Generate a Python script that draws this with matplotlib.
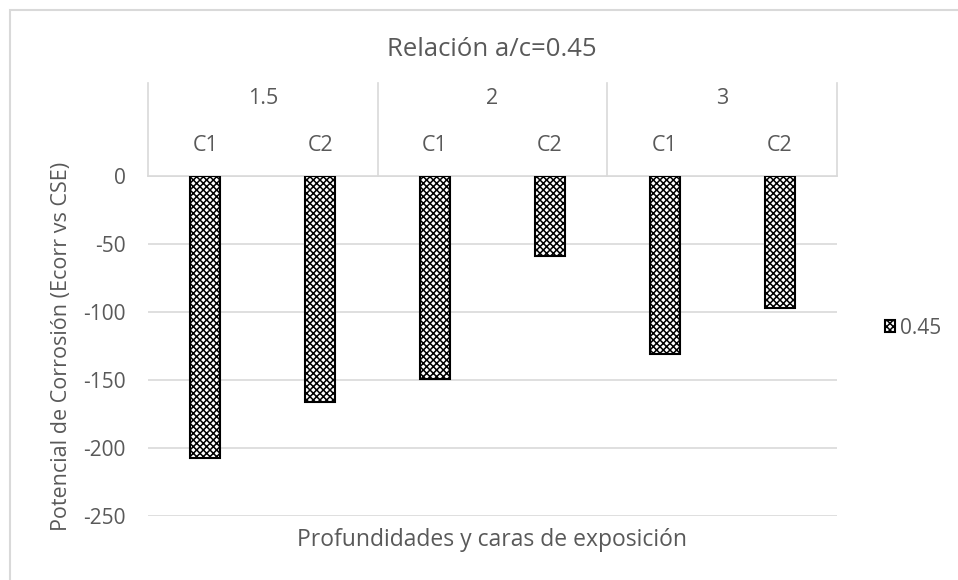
import matplotlib.pyplot as plt
from matplotlib.lines import Line2D
from matplotlib.patches import Rectangle
import matplotlib.transforms as mtransforms

plt.rcParams['font.family'] = ['Open Sans', 'DejaVu Sans']
plt.rcParams['hatch.linewidth'] = 1.1
plt.rcParams['axes.unicode_minus'] = False

# depth groups, faces and potentials
depths = ['1.5', '2', '3']
faces = ['C1', 'C2', 'C1', 'C2', 'C1', 'C2']
potentials = [-207, -166, -149, -59, -131, -97]
series_name = '0.45'

TEXT = '#595959'
GRID = '#d9d9d9'

fig = plt.figure(figsize=(9.58, 5.8), dpi=100)
W, H = 958, 580
ax = fig.add_axes([148 / W, 1 - 516 / H, 689 / W, 340 / H])

x = list(range(len(faces)))
bars = ax.bar(x, potentials, width=0.26, color='white', edgecolor='black',
              linewidth=1.5, hatch='xxxxx', label=series_name, zorder=3)

ax.set_xlim(-0.5, len(faces) - 0.5)
ax.set_ylim(-250, 0)
ax.set_yticks([0, -50, -100, -150, -200, -250])
ax.tick_params(axis='y', length=0, labelsize=15, colors=TEXT, pad=16)
ax.set_xticks([])
ax.grid(axis='y', color=GRID, linewidth=1.2, zorder=0)
for s in ['left', 'right', 'bottom']:
    ax.spines[s].set_visible(False)
ax.spines['top'].set_color(GRID)
ax.spines['top'].set_linewidth(1.2)

# category header above the plot: faces and depth groups
trans = mtransforms.blended_transform_factory(ax.transData, ax.transAxes)
head_top = 1 + 93 / 340
for xs in [-0.5, 1.5, 3.5, 5.5]:
    ax.add_line(Line2D([xs, xs], [1, head_top], transform=trans, color=GRID,
                       linewidth=1.2, clip_on=False))
for i, f in enumerate(faces):
    ax.text(i, (516 - 145) / 340, f, transform=trans, ha='center', va='center',
            fontsize=15.5, color=TEXT)
for g, d in enumerate(depths):
    ax.text(2 * g + 0.5, (516 - 98) / 340, d, transform=trans, ha='center',
            va='center', fontsize=15.5, color=TEXT)

fig.text(492 / W, 1 - 50 / H, 'Relación a/c=0.45', ha='center', va='center',
         fontsize=18.5, color=TEXT)
fig.text(492 / W, 1 - 540 / H, 'Profundidades y caras de exposición',
         ha='center', va='center', fontsize=16.5, color=TEXT)
fig.text(62 / W, 1 - 346 / H, 'Potencial de Corrosión (Ecorr vs CSE)',
         ha='center', va='center', rotation=90, fontsize=15.5, color=TEXT)

fig.legend(handles=[bars], loc='center left', frameon=False,
           bbox_to_anchor=(866 / W, 1 - 328 / H), handlelength=0.5,
           handleheight=0.5, handletextpad=0.25, fontsize=15,
           labelcolor=TEXT)

# chart frame (only the top and left edges fall inside the image)
fig.add_artist(Rectangle((10 / W, -0.1), 1.2, 1 - 10 / H + 0.1,
                         transform=fig.transFigure, fill=False,
                         edgecolor=GRID, linewidth=1.5))

fig.savefig('out.png', dpi=100)
